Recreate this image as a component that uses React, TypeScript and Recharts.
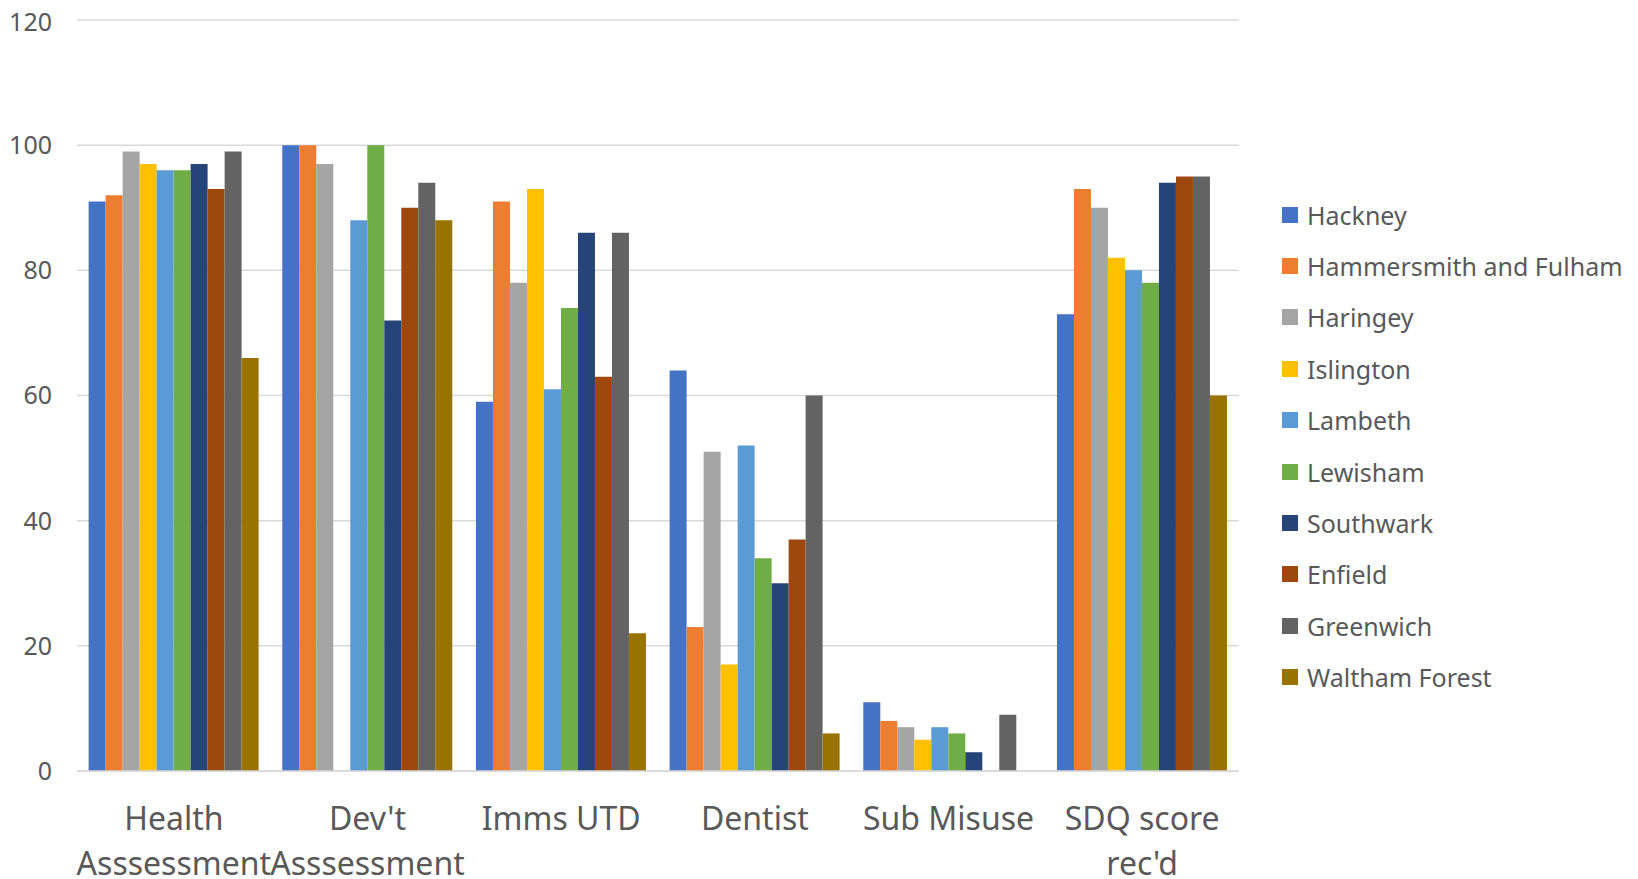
import React from 'react';
import { BarChart, Bar, XAxis, YAxis, CartesianGrid, Legend } from 'recharts';

const categories = ['Health Asssessment', "Dev't Asssessment", 'Imms UTD', 'Dentist', 'Sub Misuse', "SDQ score rec'd"];
const boroughs = ['Hackney', 'Hammersmith and Fulham', 'Haringey', 'Islington', 'Lambeth', 'Lewisham', 'Southwark', 'Enfield', 'Greenwich', 'Waltham Forest'];
const colors = ['#4472C4', '#ED7D31', '#A5A5A5', '#FFC000', '#5B9BD5', '#70AD47', '#264478', '#9E480E', '#636363', '#997300'];
const yTicks = [0, 20, 40, 60, 80, 100, 120];

const hackney = [91, 100, 59, 64, 11, 73];
const hammersmith = [92, 100, 91, 23, 8, 93];
const haringey = [99, 97, 78, 51, 7, 90];
const islington = [97, null, 93, 17, 5, 82];
const lambeth = [96, 88, 61, 52, 7, 80];
const lewisham = [96, 100, 74, 34, 6, 78];
const southwark = [97, 72, 86, 30, 3, 94];
const enfield = [93, 90, 63, 37, null, 95];
const greenwich = [99, 94, 86, 60, 9, 95];
const walthamForest = [66, 88, 22, 6, null, 60];

const seriesValues = [hackney, hammersmith, haringey, islington, lambeth, lewisham, southwark, enfield, greenwich, walthamForest];

const data = categories.map((c, i) => {
  const row: any = { name: c };
  boroughs.forEach((b, j) => {
    row[b] = seriesValues[j][i];
  });
  return row;
});

const FONT = '"Noto Sans", sans-serif';
const TEXT = '#595959';
const X_FONT_SIZE = 32;
const X_MAX_WIDTH = 194;

let ctx: CanvasRenderingContext2D | null = null;
const measure = (s: string) => {
  if (!ctx && typeof document !== 'undefined') {
    ctx = document.createElement('canvas').getContext('2d');
  }
  if (!ctx) return s.length * X_FONT_SIZE * 0.55;
  ctx.font = `${X_FONT_SIZE}px "Noto Sans"`;
  return ctx.measureText(s).width;
};

const wrap = (label: string) => {
  const words = label.split(' ');
  const lines: string[] = [];
  let cur = '';
  words.forEach((w) => {
    const t = cur ? cur + ' ' + w : w;
    if (cur && measure(t) > X_MAX_WIDTH) {
      lines.push(cur);
      cur = w;
    } else {
      cur = t;
    }
  });
  if (cur) lines.push(cur);
  return lines;
};

const XTick = (props: any) => {
  const { x, y, payload } = props;
  const lines = wrap(String(payload.value));
  return (
    <text x={x} y={y} textAnchor="middle" fontSize={X_FONT_SIZE} fill={TEXT} fontFamily={FONT}>
      {lines.map((l, i) => (
        <tspan key={i} x={x} y={y + 59 + i * 45}>
          {l}
        </tspan>
      ))}
    </text>
  );
};

const LegendContent = () => (
  <div style={{ fontFamily: FONT, fontSize: 25, color: TEXT }}>
    {boroughs.map((b, i) => (
      <div key={b} style={{ display: 'flex', alignItems: 'center', height: 51.4, whiteSpace: 'nowrap' }}>
        <div style={{ width: 16, height: 16, background: colors[i], flex: '0 0 auto' }} />
        <span style={{ marginLeft: 9 }}>{b}</span>
      </div>
    ))}
  </div>
);

export default function App() {
  return (
    <div style={{ fontFamily: FONT }}>
      <BarChart
        width={1630}
        height={871}
        data={data}
        margin={{ top: 12, right: 43, bottom: 8, left: 9 }}
        barCategoryGap="6%"
        barGap={0}
        style={{ overflow: 'visible' }}
      >
        <CartesianGrid vertical={false} stroke="#D9D9D9" strokeWidth={1.5} />
        <XAxis
          dataKey="name"
          height={100}
          tickLine={false}
          tickSize={0}
          tickMargin={0}
          axisLine={{ stroke: '#D9D9D9', strokeWidth: 1.5 }}
          tick={<XTick />}
          interval={0}
        />
        <YAxis
          width={60}
          domain={[0, 120]}
          ticks={yTicks}
          axisLine={false}
          tickLine={false}
          tickSize={0}
          tickMargin={25}
          tick={{ fontSize: 25, fill: TEXT, fontFamily: FONT }}
        />
        <Legend
          layout="vertical"
          align="right"
          verticalAlign="middle"
          content={<LegendContent />}
          wrapperStyle={{ left: 1274, top: 181, width: 356 }}
        />
        {boroughs.map((b, i) => (
          <Bar key={b} dataKey={b} fill={colors[i]} isAnimationActive={false} />
        ))}
      </BarChart>
    </div>
  );
}
